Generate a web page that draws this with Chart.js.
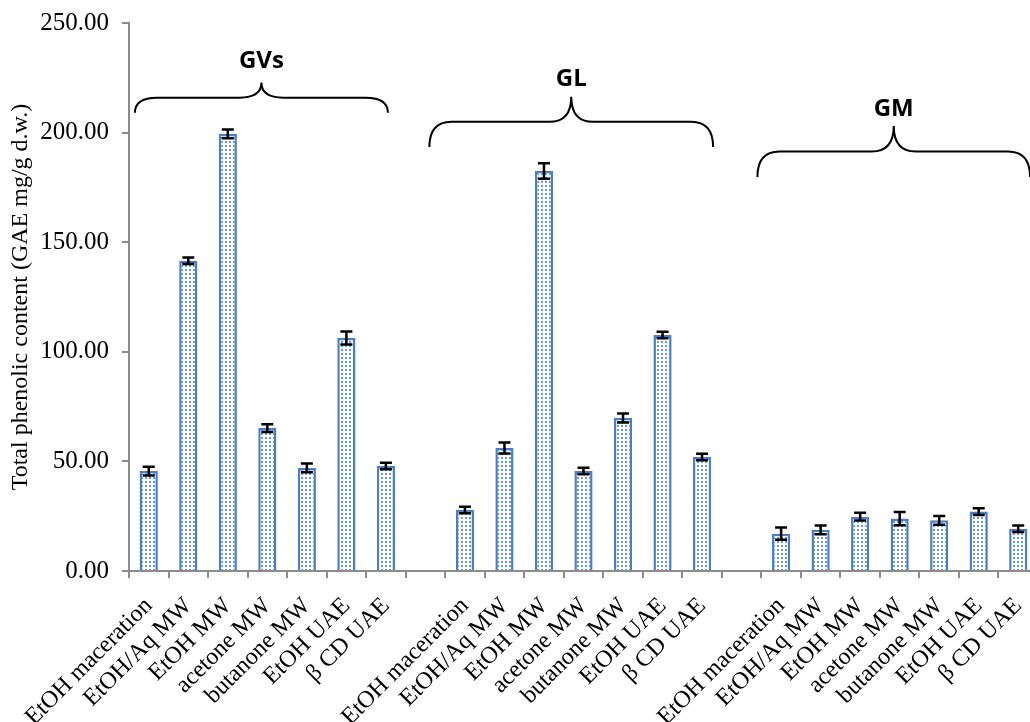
<!DOCTYPE html>
<html><head><meta charset="utf-8">
<script src="https://cdn.jsdelivr.net/npm/chart.js@4/dist/chart.umd.min.js"></script>
<style>html,body{margin:0;padding:0;overflow:hidden;background:#fff}#wrap{width:1040px;height:722px}</style>
</head><body><div id="wrap"><canvas id="c" width="1040" height="722"></canvas></div>
<script>
const methods = ['EtOH maceration','EtOH/Aq MW','EtOH MW','acetone MW','butanone MW','EtOH UAE','β CD UAE'];
const groups = ['GVs','GL','GM'];
const gvsValues = [45.6,141.5,199.4,65.2,47.0,106.3,47.9];
const gvsErrors = [2.0,1.5,2.0,1.8,2.0,3.0,1.5];
const glValues = [27.8,56.1,182.5,45.6,69.8,107.7,52.0];
const glErrors = [1.5,2.5,3.5,1.5,2.0,1.5,1.5];
const gmValues = [17.0,18.8,24.8,23.9,23.1,27.1,19.3];
const gmErrors = [2.8,2.0,1.8,3.0,2.0,1.5,1.5];
const yTicks = [0,50,100,150,200,250];
// brace annotations (category index span, value levels)
const braceStart = [-0.35,7.1,15.4];
const braceEnd = [6.05,14.28,22.3];
const braceEndVal = [209,193.4,179.7];
const braceTipVal = [222.8,216.4,203];
const groupLabelVal = [232.5,224.5,210.5];

const labels = [...methods,'',...methods,'',...methods];
const values = [...gvsValues,null,...glValues,null,...gmValues];
const errors = [...gvsErrors,null,...glErrors,null,...gmErrors];

const ctx = document.getElementById('c').getContext('2d');
function dotPattern(){
  const p=document.createElement('canvas');p.width=4;p.height=4;
  const g=p.getContext('2d');g.fillStyle='#fff';g.fillRect(0,0,4,4);
  g.fillStyle='#6b98d8';g.fillRect(1,1,2,2);
  return ctx.createPattern(p,'repeat');
}

const extras = {
  id:'extras',
  afterDatasetsDraw(chart){
    const c=chart.ctx, xs=chart.scales.x, ys=chart.scales.y;
    const meta=chart.getDatasetMeta(0);
    c.save();
    c.strokeStyle='#000';c.lineWidth=2.5;
    meta.data.forEach((bar,i)=>{
      if(values[i]==null) return;
      const x=bar.x, yt=ys.getPixelForValue(values[i]+errors[i]), yb=ys.getPixelForValue(values[i]-errors[i]);
      c.beginPath();
      c.moveTo(x,yt);c.lineTo(x,yb);
      c.moveTo(x-6,yt);c.lineTo(x+6,yt);
      c.moveTo(x-6,yb);c.lineTo(x+6,yb);
      c.stroke();
    });
    c.lineWidth=2;
    groups.forEach((g,k)=>{
      const x1=xs.getPixelForValue(braceStart[k]), x2=xs.getPixelForValue(braceEnd[k]);
      const xm=(x1+x2)/2;
      const ye=ys.getPixelForValue(braceEndVal[k]), yt=ys.getPixelForValue(braceTipVal[k]);
      const yh=(ye+yt)/2, r=22;
      c.beginPath();
      c.moveTo(x1,ye);
      c.quadraticCurveTo(x1,yh,x1+r,yh);
      c.lineTo(xm-r,yh);
      c.quadraticCurveTo(xm,yh,xm,yt);
      c.quadraticCurveTo(xm,yh,xm+r,yh);
      c.lineTo(x2-r,yh);
      c.quadraticCurveTo(x2,yh,x2,ye);
      c.stroke();
      c.fillStyle='#000';
      c.font='bold 24px "Open Sans"';
      c.textAlign='center';c.textBaseline='middle';
      c.fillText(g,xm,ys.getPixelForValue(groupLabelVal[k]));
    });
    c.restore();
  }
};

new Chart(ctx,{
  type:'bar',
  data:{labels,datasets:[{data:values,backgroundColor:dotPattern(),borderColor:'#4a7fc6',borderWidth:2.5,
    barPercentage:0.46,categoryPercentage:1}]},
  options:{
    responsive:false,animation:false,
    layout:{padding:{top:23,right:2,left:0,bottom:0}},
    plugins:{legend:{display:false},tooltip:{enabled:false}},
    scales:{
      x:{
        grid:{display:true,drawOnChartArea:false,drawTicks:true,tickLength:7,color:'#8c8c8c',lineWidth:2,offset:true},
        border:{display:true,color:'#8c8c8c',width:2},
        ticks:{autoSkip:false,maxRotation:45,minRotation:45,color:'#000',padding:14,
          font:{family:'"Liberation Serif"',size:24}},
        afterFit(s){s.height=151;s.paddingLeft=0;s.paddingRight=0;}
      },
      y:{
        min:0,max:250,
        afterBuildTicks(s){s.ticks=yTicks.map(v=>({value:v}));},
        grid:{display:true,drawOnChartArea:false,drawTicks:true,tickLength:7,color:'#8c8c8c',lineWidth:2},
        border:{display:true,color:'#8c8c8c',width:2},
        ticks:{color:'#000',padding:13,font:{family:'"Liberation Serif"',size:25},callback:v=>Number(v).toFixed(2)},
        title:{display:true,text:'Total phenolic content (GAE mg/g d.w.)',color:'#000',
          font:{family:'"Liberation Serif"',size:24},padding:{top:6,bottom:0}},
        afterFit(s){s.width=129;s.paddingTop=0;s.paddingBottom=0;}
      }
    }
  },
  plugins:[extras]
});
</script></body></html>
